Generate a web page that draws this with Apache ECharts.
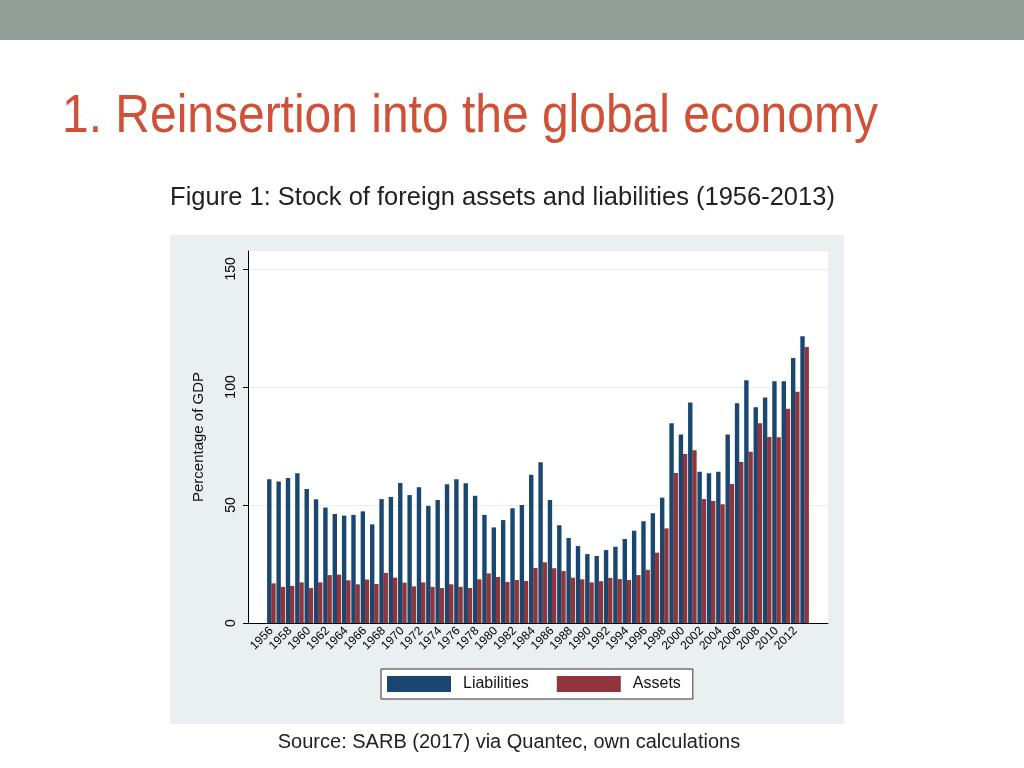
<!DOCTYPE html>
<html>
<head>
<meta charset="utf-8">
<script src="https://cdn.jsdelivr.net/npm/echarts@6/dist/echarts.min.js"></script>
<style>
html,body{margin:0;padding:0;background:#fff;}
#chart{width:1024px;height:768px;}
</style>
</head>
<body>
<div id="chart"></div>
<script>
const years = [1956,1957,1958,1959,1960,1961,1962,1963,1964,1965,1966,1967,1968,1969,1970,1971,1972,1973,1974,1975,1976,1977,1978,1979,1980,1981,1982,1983,1984,1985,1986,1987,1988,1989,1990,1991,1992,1993,1994,1995,1996,1997,1998,1999,2000,2001,2002,2003,2004,2005,2006,2007,2008,2009,2010,2011,2012,2013];
const liabilities = [60.9,60.0,61.4,63.4,56.8,52.4,48.9,46.2,45.5,45.8,47.3,41.8,52.5,53.4,59.3,54.2,57.5,49.6,52.1,58.8,60.9,59.2,53.9,45.8,40.5,43.6,48.6,50.0,62.8,68.1,52.1,41.4,36.0,32.6,29.2,28.4,30.9,32.3,35.6,39.1,43.1,46.5,53.1,84.6,79.9,93.4,64.1,63.4,64.1,79.9,93.1,102.8,91.4,95.5,102.4,102.4,112.3,121.5];
const assets = [16.8,15.3,15.7,17.2,14.8,17.2,20.3,20.5,18.1,16.4,18.4,16.5,21.2,19.2,17.1,15.5,17.2,15.3,14.8,16.4,15.3,14.8,18.5,21.0,19.5,17.4,18.2,17.8,23.3,25.7,23.2,22.0,19.2,18.5,17.2,17.7,19.1,18.6,18.2,20.3,22.5,29.8,40.1,63.6,71.6,73.2,52.5,51.7,50.3,58.9,68.2,72.6,84.6,78.8,78.7,90.8,98.0,116.9];
const xTickLabels = [1956,1958,1960,1962,1964,1966,1968,1970,1972,1974,1976,1978,1980,1982,1984,1986,1988,1990,1992,1994,1996,1998,2000,2002,2004,2006,2008,2010,2012];
const yTickLabels = [0,50,100,150];
const seriesNames = ['Liabilities','Assets'];
const titleText = '1. Reinsertion into the global economy';
const subtitleText = 'Figure 1: Stock of foreign assets and liabilities (1956-2013)';
const sourceText = 'Source: SARB (2017) via Quantec, own calculations';

const chart = echarts.init(document.getElementById('chart'), null, {renderer:'canvas'});
const font = '"Liberation Sans", Arial, Helvetica, sans-serif';

chart.setOption({
  animation: false,
  backgroundColor: '#ffffff',
  textStyle: {fontFamily: font},
  graphic: [
    {type:'rect', z:-10, silent:true, shape:{x:0,y:0,width:1024,height:40}, style:{fill:'#929f99'}},
    {type:'rect', z:-10, silent:true, shape:{x:170,y:235,width:674,height:489}, style:{fill:'#eaeff2'}},
    {type:'text', x:62, y:117, scaleX:0.905, style:{text:titleText, font:'53px ' + font, fill:'#cf5238', verticalAlign:'middle', align:'left'}},
    {type:'text', x:502.5, y:198, scaleX:1.02, style:{text:subtitleText, font:'25px ' + font, fill:'#222', verticalAlign:'middle', align:'center'}},
    {type:'text', x:509, y:742, style:{text:sourceText, font:'20px ' + font, fill:'#222', verticalAlign:'middle', align:'center'}}
  ],
  legend: {
    data: seriesNames,
    left: 381, top: 669,
    padding: [7, 12, 7, 6],
    backgroundColor: '#ffffff',
    borderColor: '#333', borderWidth: 1, borderRadius: 0,
    icon: 'rect',
    itemWidth: 64, itemHeight: 16, itemGap: 28,
    textStyle: {fontSize: 16, color: '#111', padding: [0,0,0,7]}
  },
  grid: {
    left: 248, right: 196, top: 251, bottom: 145,
    show: true, backgroundColor: '#ffffff', borderWidth: 0
  },
  xAxis: {
    type: 'value', min: 1953.5, max: 2015.5,
    axisLine: {show: true, onZero: false, lineStyle: {color: '#000', width: 1}},
    axisTick: {show: false},
    splitLine: {show: false},
    axisLabel: {
      customValues: xTickLabels,
      rotate: 45, fontSize: 12, color: '#000', margin: 6,
      formatter: v => String(v)
    }
  },
  yAxis: {
    type: 'value', min: 0, max: 157.6,
    name: 'Percentage of GDP', nameLocation: 'middle', nameGap: 42,
    nameTextStyle: {fontSize: 15, color: '#111'},
    axisLine: {show: true, lineStyle: {color: '#000', width: 1}},
    axisTick: {show: true, customValues: yTickLabels, length: 5, lineStyle: {color: '#000'}},
    splitLine: {show: true, lineStyle: {color: '#e8eef0', width: 1}},
    axisLabel: {customValues: yTickLabels, rotate: 90, fontSize: 14, color: '#000', margin: 10}
  },
  series: [
    {name: seriesNames[0], type: 'bar', barWidth: 4.4, barGap: '-5%',
     itemStyle: {color: '#1a476f'},
     data: years.map((y, i) => [y, liabilities[i]])},
    {name: seriesNames[1], type: 'bar', barWidth: 4.4, barGap: '-5%',
     itemStyle: {color: '#90353b'},
     data: years.map((y, i) => [y, assets[i]])}
  ]
});
</script>
</body>
</html>
